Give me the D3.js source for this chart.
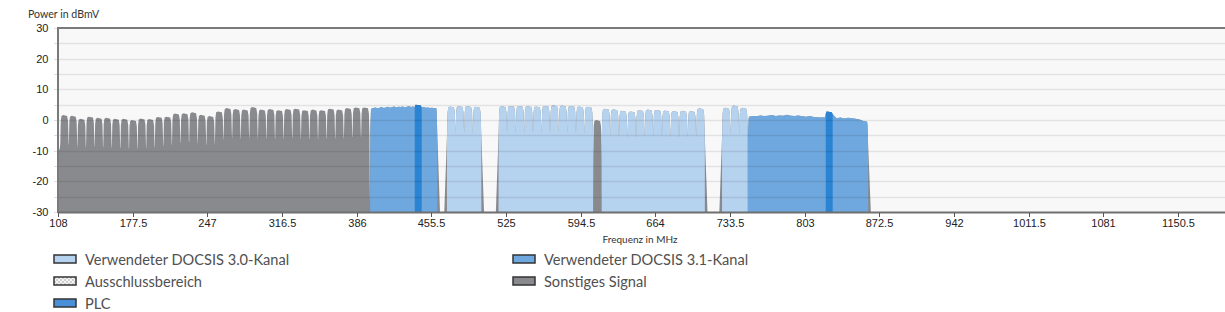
<!DOCTYPE html>
<html>
<head>
<meta charset="utf-8">
<script src="https://cdn.jsdelivr.net/npm/d3@7"></script>
<style>
  body { margin: 0; background: #fff; }
  .tick-label { font-family: "Liberation Sans", Arial, sans-serif; font-size: 11px; fill: #222; }
  .legend-text { font-family: Lato, "Open Sans", sans-serif; font-size: 14.6px; fill: #505050; }
  .axis-title { font-family: Lato, "Open Sans", sans-serif; font-size: 10.6px; fill: #333; }
</style>
</head>
<body>
<div id="chart"></div>
<script>
// Spectrum chart - DOCSIS downstream power per frequency

const xTicks = [108, 177.5, 247, 316.5, 386, 455.5, 525, 594.5, 664, 733.5, 803, 872.5, 942, 1011.5, 1081, 1150.5];
const yTicks = [-30, -20, -10, 0, 10, 20, 30];
const yGrid = [-30, -25, -20, -15, -10, -5, 0, 5, 10, 15, 20, 25, 30];

const CH_WIDTH = 8;

// Sonstiges Signal: 36 channels from 110 MHz
const otherStart = 110;
const otherLevels = [1.6, 1.4, 0.4, 1.1, 0.7, 0.7, 0.4, 0.4, 0.0, 0.5, 0.3, 1.0, 1.1, 2.1, 2.2, 2.5, 1.7, 1.3,
                     2.8, 3.9, 3.6, 3.4, 4.2, 3.4, 3.6, 3.2, 3.6, 3.7, 3.2, 3.4, 3.2, 3.7, 3.4, 3.9, 4.1, 4.1];
// single other channel between DOCSIS 3.0 groups
const otherStart2 = 606;
const otherLevels2 = [0.0];

// DOCSIS 3.0 channel groups
const d30Starts = [470, 518, 614, 726];
const d30Levels = [
  [4.4, 4.5, 4.5, 4.3],
  [4.5, 4.6, 4.6, 4.5, 4.4, 4.6, 4.8, 4.7, 4.6, 4.4, 4.3],
  [3.7, 3.5, 3.0, 2.8, 3.2, 3.4, 3.3, 3.1, 2.9, 3.0, 2.9, 3.8],
  [4.0, 4.7, 4.0]
];

// DOCSIS 3.1 OFDM blocks
const d31Ranges = [[398.5, 461], [750, 862]];
const d31Levels = [
  [3.7, 3.9, 4.1, 3.8, 4.0, 4.2, 3.9, 4.1, 4.3, 4.0, 4.2, 4.4, 4.1, 4.3, 4.2, 4.4,
   4.1, 4.3, 4.5, 4.2, 4.4, 4.3, 4.5, 4.6, 4.4, 4.2, 4.0, 4.1, 3.9, 4.0, 3.8, 3.9],
  [1.1, 1.3, 1.2, 1.5, 1.3, 1.4, 1.6, 1.3, 1.5, 1.4, 1.7, 1.4, 1.3, 1.5, 1.2, 1.1,
   1.3, 1.0, 0.9, 0.8, 0.9, 0.7, 0.8, 0.6, 0.8, 0.5, 0.7, 0.6, 0.4, 0.2, -0.3, -0.6]
];

// PLC inside the OFDM blocks
const plcRanges = [[440, 446.5], [822.5, 829]];
const plcLevels = [5.0, 2.8];

const legendLabels = ["Verwendeter DOCSIS 3.0-Kanal", "Verwendeter DOCSIS 3.1-Kanal", "Ausschlussbereich", "Sonstiges Signal", "PLC"];

const COLORS = {
  other: "#898a8e",
  d30: "#b5d2ef",
  d31: "#6fa8de",
  plc: "#2b83d3",
  plcLegend: "#4a90d9"
};

const CONFIG = {
  width: 1225,
  height: 312,
  margin: { top: 28, left: 58 },
  plotBottom: 212,
  plotRight: 1225,
  xMax: 1194.1
};

const FLOOR = -30;

// build the points of a group of adjacent 8 MHz channels
function channelGroup(start, levels, notch) {
  const pts = [];
  levels.forEach((L, i) => {
    const s = start + i * CH_WIDTH, e = s + CH_WIDTH;
    pts.push([s + 0.1, L - notch], [s + 0.55, L - 2.0], [s + 1.2, L - 0.3], [s + 2.8, L],
             [e - 1.5, L - 0.3], [e - 0.65, L - 2.0], [e - 0.1, L - notch]);
  });
  return { start, end: start + levels.length * CH_WIDTH, pts };
}

// build the points of an OFDM block, with the PLC level put in
function ofdmBlock(range, levels, plc, plcLevel) {
  const [start, end] = range;
  const step = (end - start - 2) / (levels.length - 1);
  const pts = [[start + 0.2, levels[0] - 6], [start + 0.7, levels[0] - 1]];
  levels.forEach((L, i) => {
    const f = start + 1 + i * step;
    if (f > plc[0] - 0.5 && f < plc[1] + 0.5) return;
    pts.push([f, L]);
  });
  pts.push([plc[0], plcLevel - 0.8], [plc[0] + 0.8, plcLevel], [plc[1] - 0.8, plcLevel - 0.3], [plc[1], plcLevel - 0.9]);
  pts.push([end - 0.6, levels[levels.length - 1] - 1], [end - 0.2, levels[levels.length - 1] - 6]);
  pts.sort((a, b) => a[0] - b[0]);
  return { start, end, pts };
}

function buildSpectrum() {
  const groups = [];
  groups.push(channelGroup(otherStart, otherLevels, 9.5));
  groups.push(channelGroup(otherStart2, otherLevels2, 12));
  d30Starts.forEach((s, i) => groups.push(channelGroup(s, d30Levels[i], 8.5)));
  d31Ranges.forEach((r, i) => groups.push(ofdmBlock(r, d31Levels[i], plcRanges[i], plcLevels[i])));
  groups.sort((a, b) => a.start - b.start);

  const pts = [[108, -10], [109.5, -9.5]];
  groups.forEach((g, i) => {
    if (i > 0) {
      const prev = groups[i - 1];
      if (g.start - prev.end < 5) {
        pts.push([(prev.end + g.start) / 2, -27]);
      } else {
        pts.push([prev.end + 2.5, FLOOR], [g.start - 2.5, FLOOR]);
      }
    }
    pts.push(...g.pts);
  });
  const last = groups[groups.length - 1];
  pts.push([last.end + 2.5, FLOOR], [CONFIG.xMax, FLOOR]);
  return pts;
}

function renderChart() {
  const { width, height, margin, plotBottom } = CONFIG;

  const svg = d3.select("#chart").append("svg")
    .attr("width", width)
    .attr("height", height);

  const x = d3.scaleLinear().domain([108, CONFIG.xMax]).range([margin.left, CONFIG.plotRight]);
  const y = d3.scaleLinear().domain([-30, 30]).range([plotBottom, margin.top]);

  // plot background
  svg.append("rect")
    .attr("x", margin.left).attr("y", margin.top)
    .attr("width", CONFIG.plotRight - margin.left)
    .attr("height", plotBottom - margin.top)
    .attr("fill", "#f8f8f8");

  const spectrum = buildSpectrum();
  const area = d3.area()
    .x(d => x(d[0]))
    .y0(y(FLOOR))
    .y1(d => y(d[1]));

  // clip paths per signal type
  const defs = svg.append("defs");
  function addClip(id, ranges) {
    const cp = defs.append("clipPath").attr("id", id);
    ranges.forEach(r => {
      cp.append("rect")
        .attr("x", x(r[0])).attr("y", margin.top)
        .attr("width", x(r[1]) - x(r[0]))
        .attr("height", plotBottom - margin.top);
    });
  }
  addClip("clip-d30", d30Starts.map((s, i) => [s, s + d30Levels[i].length * CH_WIDTH]));
  addClip("clip-d31", d31Ranges);
  addClip("clip-plc", plcRanges);

  const plot = svg.append("g");
  plot.append("path").attr("d", area(spectrum)).attr("fill", COLORS.other);
  plot.append("path").attr("d", area(spectrum)).attr("fill", COLORS.d30).attr("clip-path", "url(#clip-d30)");
  plot.append("path").attr("d", area(spectrum)).attr("fill", COLORS.d31).attr("clip-path", "url(#clip-d31)");
  plot.append("path").attr("d", area(spectrum)).attr("fill", COLORS.plc).attr("clip-path", "url(#clip-plc)");

  // grid lines on top, semi transparent
  svg.append("g").selectAll("line")
    .data(yGrid.filter(v => v > -30 && v < 30))
    .join("line")
    .attr("x1", margin.left).attr("x2", CONFIG.plotRight)
    .attr("y1", d => Math.round(y(d)) + 0.5).attr("y2", d => Math.round(y(d)) + 0.5)
    .attr("stroke", "rgba(0,0,0,0.085)")
    .attr("stroke-width", 1.5);

  // y tick marks
  svg.append("g").selectAll("line")
    .data(yGrid)
    .join("line")
    .attr("x1", margin.left - 4).attr("x2", margin.left)
    .attr("y1", d => Math.round(y(d)) + 0.5).attr("y2", d => Math.round(y(d)) + 0.5)
    .attr("stroke", "#ddd");

  // frame
  svg.append("line")
    .attr("x1", margin.left).attr("x2", CONFIG.plotRight)
    .attr("y1", margin.top).attr("y2", margin.top)
    .attr("stroke", "#7a7a7a").attr("stroke-width", 2);
  svg.append("line")
    .attr("x1", margin.left).attr("x2", margin.left)
    .attr("y1", margin.top - 1).attr("y2", plotBottom + 1)
    .attr("stroke", "#7a7a7a").attr("stroke-width", 2);
  svg.append("line")
    .attr("x1", margin.left).attr("x2", CONFIG.plotRight)
    .attr("y1", plotBottom + 0.5).attr("y2", plotBottom + 0.5)
    .attr("stroke", "#6f6f6f").attr("stroke-width", 2);

  // x ticks and labels
  const xt = svg.append("g").selectAll("g")
    .data(xTicks)
    .join("g")
    .attr("transform", d => `translate(${Math.round(x(d)) + 0.5},0)`);
  xt.append("line")
    .attr("y1", plotBottom + 1).attr("y2", plotBottom + 5)
    .attr("stroke", "#555");
  xt.append("text")
    .attr("class", "tick-label")
    .attr("y", 227)
    .attr("text-anchor", "middle")
    .text(d => d);

  // y labels
  svg.append("g").selectAll("text")
    .data(yTicks)
    .join("text")
    .attr("class", "tick-label")
    .attr("x", 48.5)
    .attr("y", d => y(d) + 4)
    .attr("text-anchor", "end")
    .text(d => d);

  // axis titles
  svg.append("text")
    .attr("class", "axis-title")
    .attr("x", 28).attr("y", 18)
    .text("Power in dBmV");
  svg.append("text")
    .attr("class", "axis-title")
    .style("font-size", "10px")
    .attr("x", 640).attr("y", 243)
    .attr("text-anchor", "middle")
    .text("Frequenz in MHz");

  // legend
  const pattern = defs.append("pattern")
    .attr("id", "hatch")
    .attr("width", 4).attr("height", 4)
    .attr("patternUnits", "userSpaceOnUse");
  pattern.append("rect").attr("width", 4).attr("height", 4).attr("fill", "#f4f4f4");
  pattern.append("rect").attr("width", 2).attr("height", 2).attr("fill", "#cfcfcf");
  pattern.append("rect").attr("x", 2).attr("y", 2).attr("width", 2).attr("height", 2).attr("fill", "#cfcfcf");

  const legendFills = [COLORS.d30, COLORS.d31, "url(#hatch)", COLORS.other, COLORS.plcLegend];
  const legend = svg.append("g").selectAll("g")
    .data(legendLabels)
    .join("g")
    .attr("transform", (d, i) => `translate(${i % 2 === 0 ? 54 : 513},${259 + Math.floor(i / 2) * 22})`);
  legend.append("rect")
    .attr("x", 0).attr("y", -4)
    .attr("width", 22).attr("height", 8)
    .attr("fill", (d, i) => legendFills[i])
    .attr("stroke", "#333")
    .attr("stroke-width", 1.5);
  legend.append("text")
    .attr("class", "legend-text")
    .attr("x", 31)
    .attr("y", 5.5)
    .text(d => d);
}

renderChart();
</script>
</body>
</html>
